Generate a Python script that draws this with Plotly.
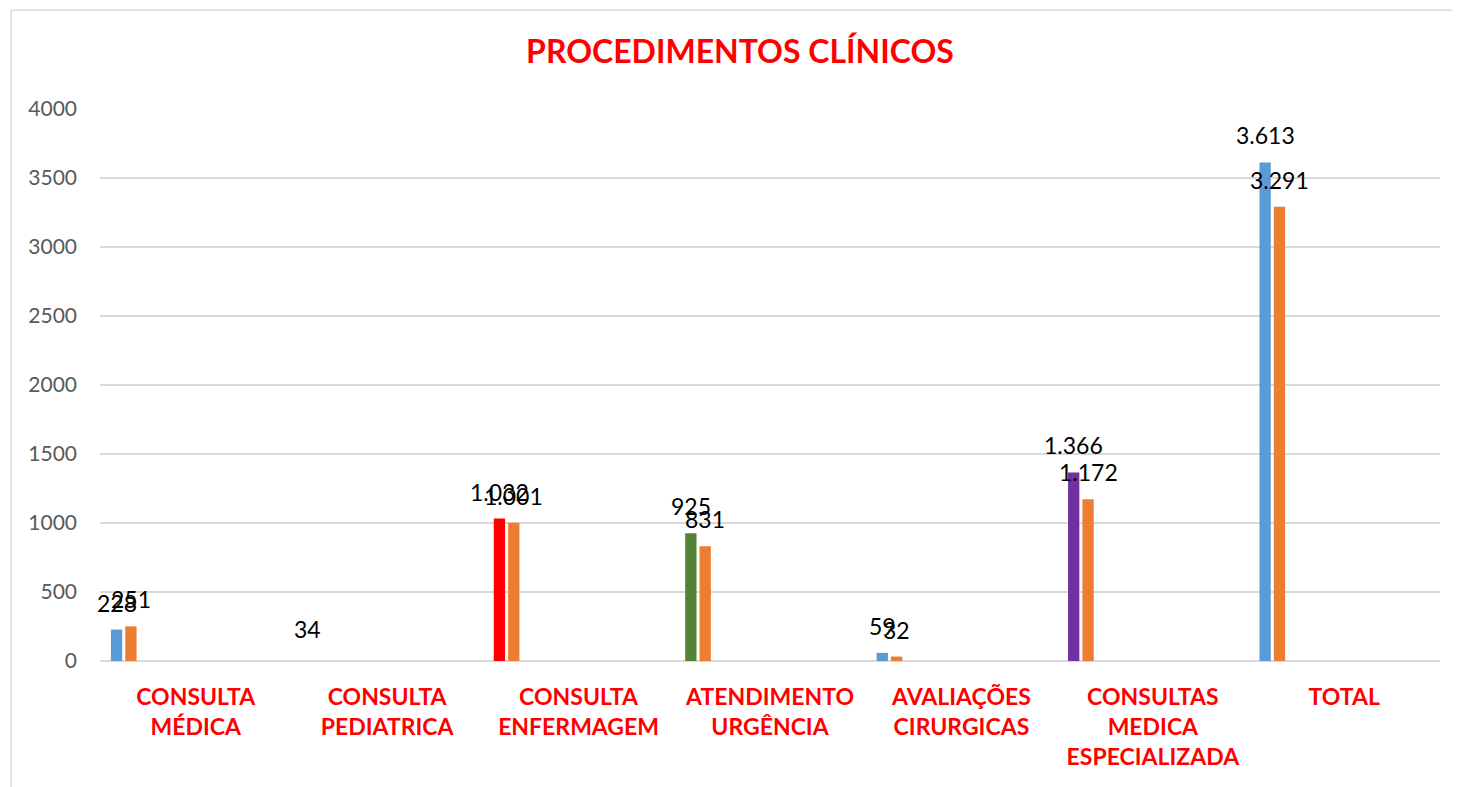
import plotly.graph_objects as go

categorias = [
    "CONSULTA<br>MÉDICA",
    "CONSULTA<br>PEDIATRICA",
    "CONSULTA<br>ENFERMAGEM",
    "ATENDIMENTO<br>URGÊNCIA",
    "AVALIAÇÕES<br>CIRURGICAS",
    "CONSULTAS<br>MEDICA<br>ESPECIALIZADA",
    "TOTAL",
]
serie_1 = [228, 34, 1032, 925, 59, 1366, 3613]
serie_2 = [251, None, 1001, 831, 32, 1172, 3291]
y_ticks = [0, 500, 1000, 1500, 2000, 2500, 3000, 3500, 4000]

BLUE = "#5b9bd5"
ORANGE = "#ed7d31"
RED = "#ff0000"
GREEN = "#548235"
PURPLE = "#7030a0"
GRID = "#d9d9d9"
cores_serie_1 = [BLUE, "rgba(0,0,0,0)", RED, GREEN, BLUE, PURPLE, BLUE]

FONT = "Lato, 'Open Sans', sans-serif"
BAR_W = 0.059
OFFSETS = [-0.443, -0.368]


def fmt(v):
    return f"{v:,}".replace(",", ".")


fig = go.Figure()
for vals, cores, off, nome in [
    (serie_1, cores_serie_1, OFFSETS[0], "Série 1"),
    (serie_2, ORANGE, OFFSETS[1], "Série 2"),
]:
    fig.add_bar(
        x=categorias,
        y=vals,
        name=nome,
        width=BAR_W,
        offset=off,
        marker={"color": cores, "line": {"width": 0}},
        showlegend=False,
    )

annotations = []
for vals, off in [(serie_1, OFFSETS[0]), (serie_2, OFFSETS[1])]:
    for i, v in enumerate(vals):
        if v is None:
            continue
        annotations.append(
            dict(
                x=i + off + BAR_W / 2,
                y=v,
                xref="x",
                yref="y",
                text=fmt(v),
                showarrow=False,
                yanchor="bottom",
                yshift=11,
                font={"family": FONT, "size": 23, "color": "#000000"},
            )
        )

# chart frame: only the top and left edges fall inside the picture
frame = {"color": GRID, "width": 1.5}
shapes = [
    dict(type="line", xref="paper", yref="paper",
         x0=-0.0664, x1=1.2, y0=1.179, y1=1.179, line=frame, layer="below"),
    dict(type="line", xref="paper", yref="paper",
         x0=-0.0664, x1=-0.0664, y0=-0.5, y1=1.179, line=frame, layer="below"),
]

# page body has an 8px margin, so the figure is sized/margined to compensate
fig.update_layout(
    width=1452,
    height=779,
    paper_bgcolor="white",
    plot_bgcolor="white",
    margin={"l": 92, "r": 20, "t": 101, "b": 126},
    barmode="overlay",
    title={
        "text": "<b>PROCEDIMENTOS CLÍNICOS</b>",
        "x": 0.5041,
        "xanchor": "center",
        "y": 0.944,
        "yanchor": "middle",
        "font": {"family": FONT, "size": 32, "color": RED},
    },
    annotations=annotations,
    shapes=shapes,
)
fig.update_xaxes(
    type="category",
    range=[-0.5, 6.5],
    showgrid=False,
    showline=False,
    ticks="",
    ticklabelstandoff=20,
    tickfont={"family": FONT, "size": 23, "color": RED, "weight": "bold"},
)
fig.update_yaxes(
    range=[0, 4000],
    tickvals=y_ticks,
    showgrid=True,
    gridcolor=GRID,
    gridwidth=1.5,
    zeroline=True,
    zerolinecolor=GRID,
    zerolinewidth=1.5,
    ticks="",
    ticklabelstandoff=22,
    tickfont={"family": FONT, "size": 21, "color": "#595959"},
)

fig.write_html("out.html")
